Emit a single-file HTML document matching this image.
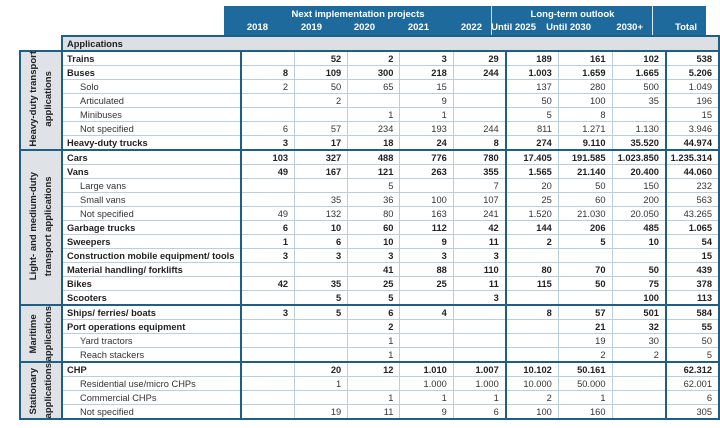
<!DOCTYPE html>
<html><head><meta charset="utf-8"><style>
body{margin:0;width:720px;height:428px;background:#fff;position:relative;overflow:hidden;font-family:"Liberation Sans",Arial,sans-serif;color:#222;}
#hd{position:absolute;left:224px;top:6px;width:482px;height:29px;background:#1f6a9c;color:#fff;font-weight:bold;font-size:9.5px;}
#hd div{position:absolute;white-space:nowrap;}
.yr{top:16px;width:54px;text-align:right;}
table{position:absolute;left:19px;top:35px;border-collapse:collapse;table-layout:fixed;font-size:9.3px;}
td{height:13px;padding:0 6px 0 3px;border:1px solid #b9cfdd;text-align:right;white-space:nowrap;overflow:hidden;line-height:12px;}
td.l{text-align:left;padding-left:4px;}
td.s{padding-left:17px;color:#333;}
tr.b td{font-weight:bold;}
tr.n td{color:#333;}
.g{background:#dfe3e8;border:2px solid #1f5f86;padding:0;}
.ov{position:absolute;left:19px;width:43px;display:flex;align-items:center;justify-content:center;z-index:2;}
.ov div{writing-mode:vertical-rl;transform:rotate(180deg);font-size:9.5px;line-height:15px;white-space:nowrap;text-align:center;font-weight:bold;color:#222;}
.L{border-left:2px solid #1f5f86;}
.R{border-right:2px solid #1f5f86;}
tr.T td{border-top:2px solid #1f5f86;}
</style></head><body>
<div id="hd">
<div style="left:0;width:268px;text-align:center;top:3px">Next implementation projects</div>
<div style="left:268px;width:161px;text-align:center;top:3px">Long-term outlook</div>
<div style="left:267px;top:0;width:1px;height:29px;background:#bfe0f4"></div>
<div style="left:428px;top:0;width:1px;height:29px;background:#d8ebf6"></div>
<div class="yr" style="left:-10px">2018</div>
<div class="yr" style="left:44px">2019</div>
<div class="yr" style="left:97px">2020</div>
<div class="yr" style="left:151px">2021</div>
<div class="yr" style="left:204px">2022</div>
<div class="yr" style="left:258px">Until 2025</div>
<div class="yr" style="left:313px">Until 2030</div>
<div class="yr" style="left:365px">2030+</div>
<div class="yr" style="left:419px">Total</div>
</div>
<table>
<colgroup><col style="width:43px"><col style="width:162px"><col style="width:54px"><col style="width:54px"><col style="width:53px"><col style="width:54px"><col style="width:53px"><col style="width:53px"><col style="width:54px"><col style="width:54px"><col style="width:53px"></colgroup>
<tr class="b"><td style="border:none"></td><td class="l L" colspan="10" style="background:#dcdfe4;border-top:2px solid #1f5f86;border-right:2px solid #1f5f86">Applications</td></tr>
<tr class="b T"><td class="g" rowspan="7"></td><td class="l R">Trains</td><td></td><td>52</td><td>2</td><td>3</td><td class="R">29</td><td>189</td><td>161</td><td class="R">102</td><td class="R">538</td></tr>
<tr class="b"><td class="l R">Buses</td><td>8</td><td>109</td><td>300</td><td>218</td><td class="R">244</td><td>1.003</td><td>1.659</td><td class="R">1.665</td><td class="R">5.206</td></tr>
<tr class="n"><td class="l s R">Solo</td><td>2</td><td>50</td><td>65</td><td>15</td><td class="R"></td><td>137</td><td>280</td><td class="R">500</td><td class="R">1.049</td></tr>
<tr class="n"><td class="l s R">Articulated</td><td></td><td>2</td><td></td><td>9</td><td class="R"></td><td>50</td><td>100</td><td class="R">35</td><td class="R">196</td></tr>
<tr class="n"><td class="l s R">Minibuses</td><td></td><td></td><td>1</td><td>1</td><td class="R"></td><td>5</td><td>8</td><td class="R"></td><td class="R">15</td></tr>
<tr class="n"><td class="l s R">Not specified</td><td>6</td><td>57</td><td>234</td><td>193</td><td class="R">244</td><td>811</td><td>1.271</td><td class="R">1.130</td><td class="R">3.946</td></tr>
<tr class="b"><td class="l R">Heavy-duty trucks</td><td>3</td><td>17</td><td>18</td><td>24</td><td class="R">8</td><td>274</td><td>9.110</td><td class="R">35.520</td><td class="R">44.974</td></tr>
<tr class="b T"><td class="g" rowspan="11"></td><td class="l R">Cars</td><td>103</td><td>327</td><td>488</td><td>776</td><td class="R">780</td><td>17.405</td><td>191.585</td><td class="R">1.023.850</td><td class="R">1.235.314</td></tr>
<tr class="b"><td class="l R">Vans</td><td>49</td><td>167</td><td>121</td><td>263</td><td class="R">355</td><td>1.565</td><td>21.140</td><td class="R">20.400</td><td class="R">44.060</td></tr>
<tr class="n"><td class="l s R">Large vans</td><td></td><td></td><td>5</td><td></td><td class="R">7</td><td>20</td><td>50</td><td class="R">150</td><td class="R">232</td></tr>
<tr class="n"><td class="l s R">Small vans</td><td></td><td>35</td><td>36</td><td>100</td><td class="R">107</td><td>25</td><td>60</td><td class="R">200</td><td class="R">563</td></tr>
<tr class="n"><td class="l s R">Not specified</td><td>49</td><td>132</td><td>80</td><td>163</td><td class="R">241</td><td>1.520</td><td>21.030</td><td class="R">20.050</td><td class="R">43.265</td></tr>
<tr class="b"><td class="l R">Garbage trucks</td><td>6</td><td>10</td><td>60</td><td>112</td><td class="R">42</td><td>144</td><td>206</td><td class="R">485</td><td class="R">1.065</td></tr>
<tr class="b"><td class="l R">Sweepers</td><td>1</td><td>6</td><td>10</td><td>9</td><td class="R">11</td><td>2</td><td>5</td><td class="R">10</td><td class="R">54</td></tr>
<tr class="b"><td class="l R">Construction mobile equipment/ tools</td><td>3</td><td>3</td><td>3</td><td>3</td><td class="R">3</td><td></td><td></td><td class="R"></td><td class="R">15</td></tr>
<tr class="b"><td class="l R">Material handling/ forklifts</td><td></td><td></td><td>41</td><td>88</td><td class="R">110</td><td>80</td><td>70</td><td class="R">50</td><td class="R">439</td></tr>
<tr class="b"><td class="l R">Bikes</td><td>42</td><td>35</td><td>25</td><td>25</td><td class="R">11</td><td>115</td><td>50</td><td class="R">75</td><td class="R">378</td></tr>
<tr class="b"><td class="l R">Scooters</td><td></td><td>5</td><td>5</td><td></td><td class="R">3</td><td></td><td></td><td class="R">100</td><td class="R">113</td></tr>
<tr class="b T"><td class="g" rowspan="4"></td><td class="l R">Ships/ ferries/ boats</td><td>3</td><td>5</td><td>6</td><td>4</td><td class="R"></td><td>8</td><td>57</td><td class="R">501</td><td class="R">584</td></tr>
<tr class="b"><td class="l R">Port operations equipment</td><td></td><td></td><td>2</td><td></td><td class="R"></td><td></td><td>21</td><td class="R">32</td><td class="R">55</td></tr>
<tr class="n"><td class="l s R">Yard tractors</td><td></td><td></td><td>1</td><td></td><td class="R"></td><td></td><td>19</td><td class="R">30</td><td class="R">50</td></tr>
<tr class="n"><td class="l s R">Reach stackers</td><td></td><td></td><td>1</td><td></td><td class="R"></td><td></td><td>2</td><td class="R">2</td><td class="R">5</td></tr>
<tr class="b T"><td class="g" rowspan="4"></td><td class="l R">CHP</td><td></td><td>20</td><td>12</td><td>1.010</td><td class="R">1.007</td><td>10.102</td><td>50.161</td><td class="R"></td><td class="R">62.312</td></tr>
<tr class="n"><td class="l s R">Residential use/micro CHPs</td><td></td><td>1</td><td></td><td>1.000</td><td class="R">1.000</td><td>10.000</td><td>50.000</td><td class="R"></td><td class="R">62.001</td></tr>
<tr class="n"><td class="l s R">Commercial CHPs</td><td></td><td></td><td>1</td><td>1</td><td class="R">1</td><td>2</td><td>1</td><td class="R"></td><td class="R">6</td></tr>
<tr class="n" style="border-bottom:2px solid #1f5f86"><td class="l s R">Not specified</td><td></td><td>19</td><td>11</td><td>9</td><td class="R">6</td><td>100</td><td>160</td><td class="R"></td><td class="R">305</td></tr>
</table>
<div class="ov" style="top:49px;height:99px"><div>Heavy-duty transport<br>applications</div></div>
<div class="ov" style="top:148px;height:157px"><div>Light- and medium-duty<br>transport applications</div></div>
<div class="ov" style="top:305px;height:57px"><div>Maritime<br>applications</div></div>
<div class="ov" style="top:362px;height:57px"><div>Stationary<br>applications</div></div>
</body></html>
